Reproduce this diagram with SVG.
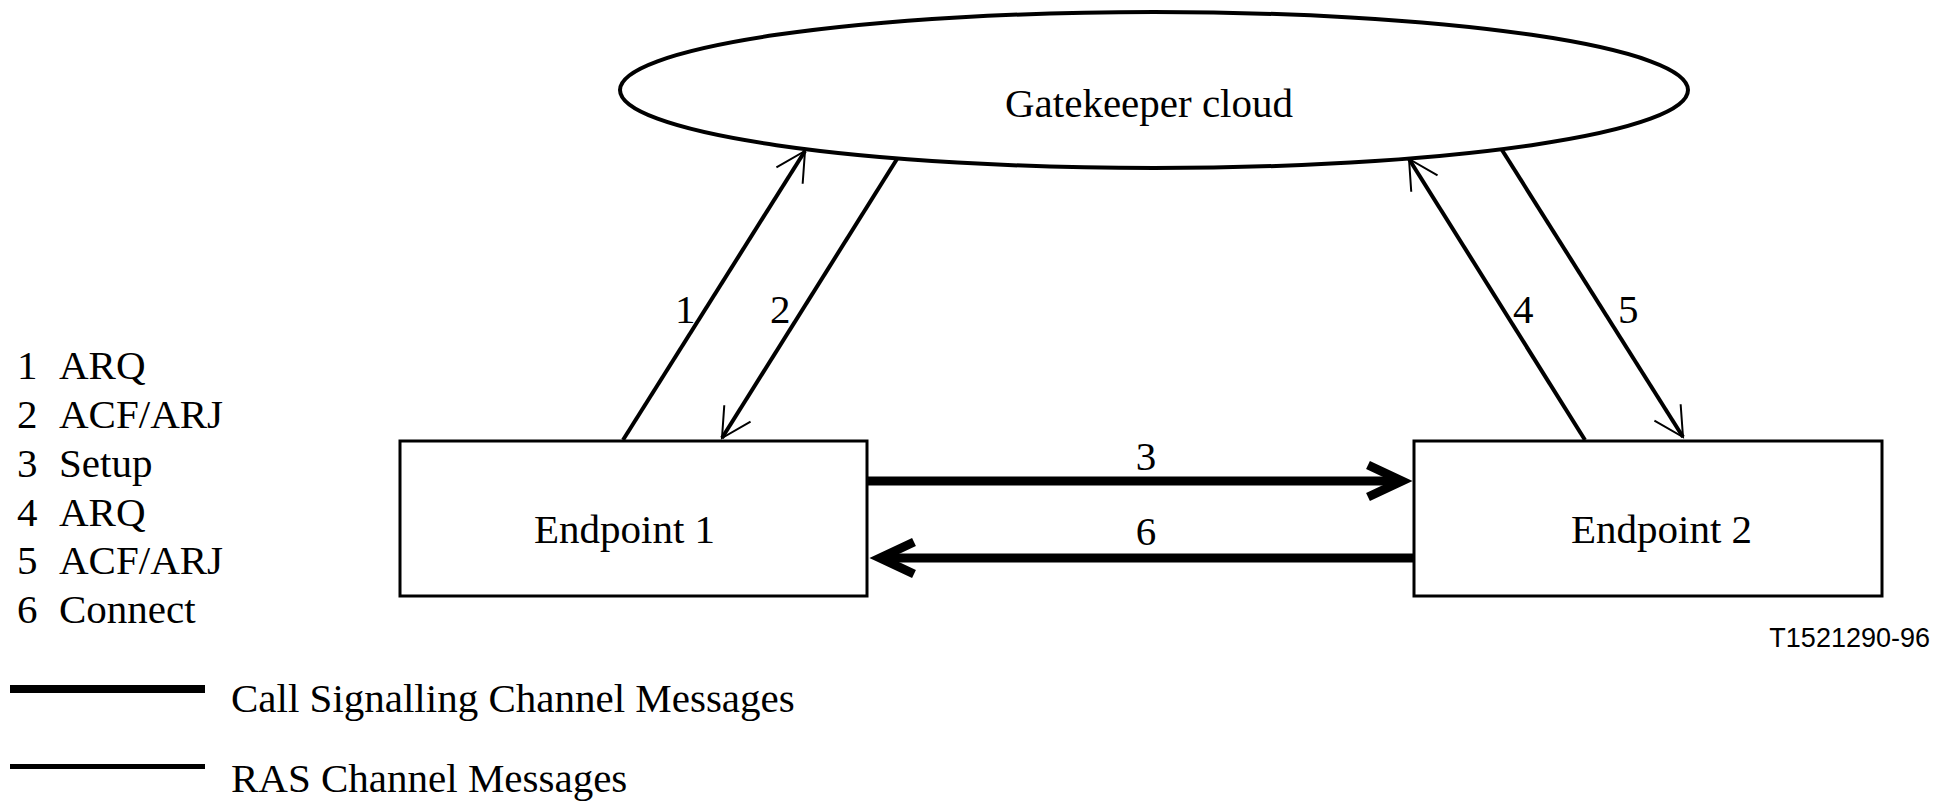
<svg xmlns="http://www.w3.org/2000/svg" width="1952" height="801" viewBox="0 0 1952 801">
<style>
.t{font-family:'Liberation Serif','Times New Roman',Times,serif;font-size:41px;fill:#000}
.code{font-family:'Liberation Sans',Arial,sans-serif;font-size:27px;fill:#000}
.box{fill:#fff;stroke:#000;stroke-width:3}
.ras{stroke:#000;stroke-width:4;fill:none}
.call{stroke:#000;stroke-width:9;fill:none}
</style>
<defs>
<marker id="thin" markerUnits="userSpaceOnUse" markerWidth="60" markerHeight="60" refX="0" refY="0" orient="auto" overflow="visible">
<path d="M -29 -15.5 L 0 0 L -29 15.5" fill="none" stroke="#000" stroke-width="2"/>
</marker>
<marker id="thick" markerUnits="userSpaceOnUse" markerWidth="80" markerHeight="80" refX="0" refY="0" orient="auto" overflow="visible">
<path d="M -34 -16 L 0 0 L -34 16" fill="none" stroke="#000" stroke-width="9" stroke-miterlimit="10"/>
</marker>
</defs>
<rect width="1952" height="801" fill="#fff"/>

<g id="gatekeeper">
<ellipse cx="1154" cy="90" rx="534" ry="78" fill="#fff" stroke="#000" stroke-width="4"/>
<text class="t" x="1149" y="117" text-anchor="middle">Gatekeeper cloud</text>
</g>

<g id="endpoint1">
<rect class="box" x="400" y="441" width="467" height="155"/>
<text class="t" x="534" y="543">Endpoint 1</text>
</g>

<g id="endpoint2">
<rect class="box" x="1414" y="441" width="468" height="155"/>
<text class="t" x="1571" y="543">Endpoint 2</text>
</g>

<g id="connectors">
<line class="ras" x1="623" y1="440" x2="805" y2="151" marker-end="url(#thin)"/>
<line class="ras" x1="897" y1="159" x2="722" y2="438" marker-end="url(#thin)"/>
<line class="ras" x1="1585" y1="440" x2="1409" y2="159" marker-end="url(#thin)"/>
<line class="ras" x1="1502" y1="150" x2="1683" y2="437" marker-end="url(#thin)"/>
<line class="call" x1="868" y1="481" x2="1402" y2="481" marker-end="url(#thick)"/>
<line class="call" x1="1413" y1="558" x2="880" y2="558" marker-end="url(#thick)"/>
<text class="t" x="675" y="323">1</text>
<text class="t" x="770" y="323">2</text>
<text class="t" x="1146" y="470" text-anchor="middle">3</text>
<text class="t" x="1513" y="323">4</text>
<text class="t" x="1618" y="323">5</text>
<text class="t" x="1146" y="545" text-anchor="middle">6</text>
</g>

<g id="legend">
<text class="t" y="379"><tspan x="17">1</tspan><tspan x="59">ARQ</tspan></text>
<text class="t" y="428"><tspan x="17">2</tspan><tspan x="59">ACF/ARJ</tspan></text>
<text class="t" y="477"><tspan x="17">3</tspan><tspan x="59">Setup</tspan></text>
<text class="t" y="526"><tspan x="17">4</tspan><tspan x="59">ARQ</tspan></text>
<text class="t" y="574"><tspan x="17">5</tspan><tspan x="59">ACF/ARJ</tspan></text>
<text class="t" y="623"><tspan x="17">6</tspan><tspan x="59">Connect</tspan></text>
<line x1="10" y1="689" x2="205" y2="689" stroke="#000" stroke-width="8"/>
<text class="t" x="231" y="712">Call Signalling Channel Messages</text>
<line x1="10" y1="766.5" x2="205" y2="766.5" stroke="#000" stroke-width="5"/>
<text class="t" x="231" y="792">RAS Channel Messages</text>
</g>

<text class="code" x="1930" y="647" text-anchor="end">T1521290-96</text>
</svg>
